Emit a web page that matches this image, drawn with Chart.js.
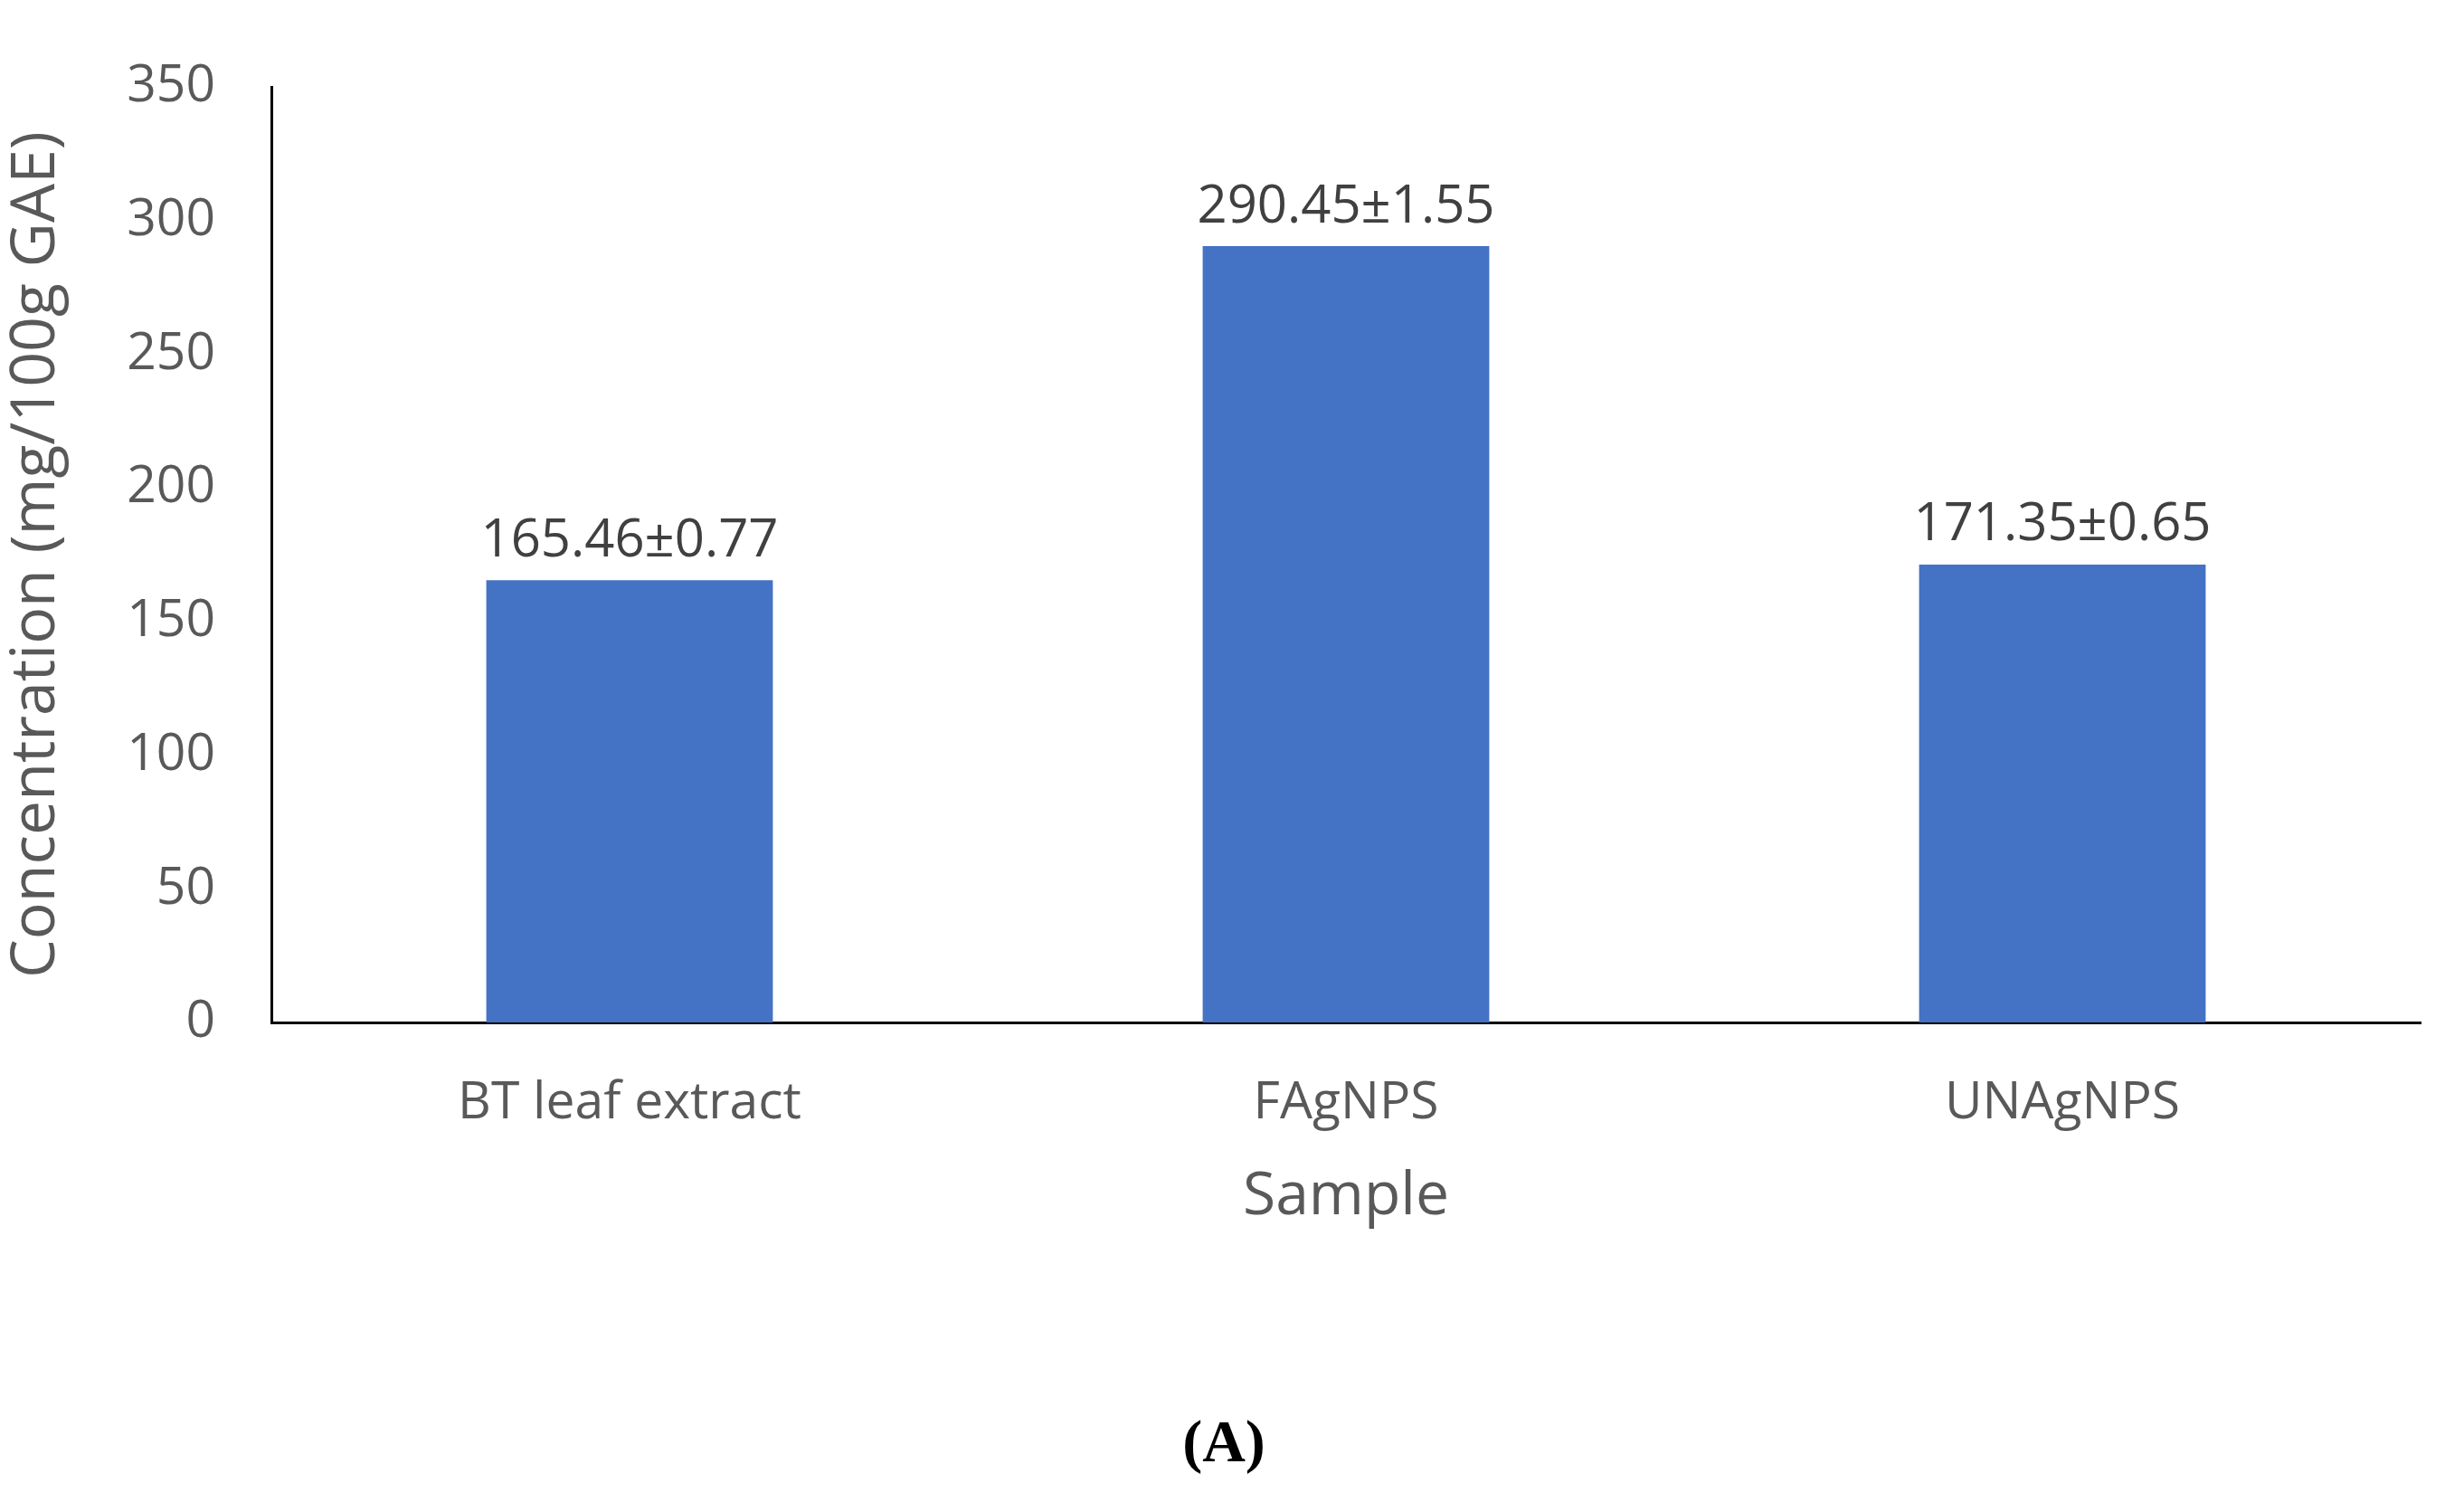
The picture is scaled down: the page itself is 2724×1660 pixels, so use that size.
<!DOCTYPE html>
<html>
<head>
<meta charset="utf-8">
<script src="https://cdn.jsdelivr.net/npm/chart.js@4.4.1/dist/chart.umd.min.js"></script>
<style>
  html, body { margin: 0; padding: 0; background: #fff; }
  #wrap { width: 2724px; height: 1660px; }
</style>
</head>
<body>
<div id="wrap"><canvas id="c" width="2724" height="1660"></canvas></div>
<script>
const categories = ['BT leaf extract', 'FAgNPS', 'UNAgNPS'];
const values = [165.46, 290.45, 171.35];
const valueLabels = ['165.46±0.77', '290.45±1.55', '171.35±0.65'];

const FONT = "'Open Sans', 'Liberation Sans', sans-serif";

// labels above each bar plus the panel caption
const labelPlugin = {
  id: 'labels',
  afterDatasetsDraw(chart) {
    const ctx = chart.ctx;
    const meta = chart.getDatasetMeta(0);
    ctx.save();
    ctx.fillStyle = '#404040';
    ctx.font = '58px ' + FONT;
    ctx.textAlign = 'center';
    ctx.textBaseline = 'bottom';
    meta.data.forEach((bar, i) => {
      ctx.fillText(valueLabels[i], bar.x, bar.y - 14);
    });
    ctx.fillStyle = '#000';
    ctx.font = 'bold 66px "Liberation Serif", serif';
    ctx.textBaseline = 'middle';
    ctx.fillText('(A)', 1353, 1598);
    ctx.restore();
  }
};

new Chart(document.getElementById('c'), {
  type: 'bar',
  data: {
    labels: categories,
    datasets: [{
      data: values,
      backgroundColor: '#4472C4',
      categoryPercentage: 1,
      barPercentage: 0.4
    }]
  },
  options: {
    responsive: false,
    animation: false,
    devicePixelRatio: 1,
    layout: { padding: { left: 0, top: 24, right: 48, bottom: 293 } },
    plugins: { legend: { display: false }, tooltip: { enabled: false } },
    scales: {
      x: {
        grid: { display: false, drawTicks: false },
        border: { color: '#000', width: 3 },
        ticks: { color: '#595959', font: { size: 57, family: FONT }, padding: 56 },
        title: { display: true, text: 'Sample', color: '#595959', font: { size: 66, family: FONT }, padding: { top: 24 } },
        afterFit(s) { s.height = 237; }
      },
      y: {
        min: 0, max: 350,
        grid: { display: false, drawTicks: false },
        border: { color: '#000', width: 3 },
        ticks: { stepSize: 50, color: '#595959', font: { size: 57, family: FONT }, padding: 62 },
        title: { display: true, text: 'Concentration (mg/100g GAE)', color: '#595959', font: { size: 68, family: FONT }, padding: { top: 0, bottom: 0 } },
        afterFit(s) { s.width = 300; }
      }
    }
  },
  plugins: [labelPlugin]
});
</script>
</body>
</html>
